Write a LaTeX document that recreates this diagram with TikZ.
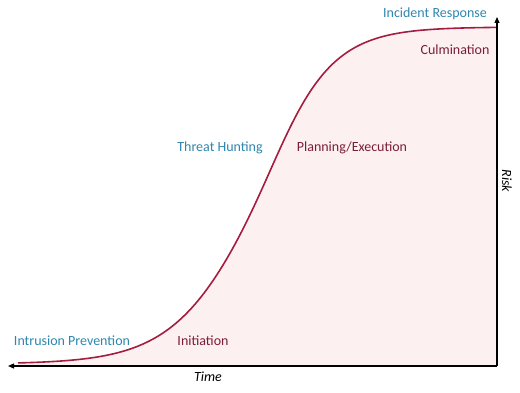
\documentclass[tikz,border=0pt]{standalone}
\usepackage{fontspec}
\setmainfont{Carlito}
\usetikzlibrary{arrows.meta}
\definecolor{teal}{HTML}{2F86AE}
\definecolor{wine}{HTML}{7A1E38}
\definecolor{curve}{HTML}{A51D3E}
\definecolor{pinkfill}{HTML}{FDF0F1}
\tikzset{
  axis/.style={line width=1.2pt, -{Triangle[length=6pt,width=5pt]}},
  bluelbl/.style={text=teal, font=\fontsize{14}{16}\selectfont, inner sep=0pt},
  redlbl/.style={text=wine, font=\fontsize{14}{16}\selectfont, inner sep=0pt},
  axlbl/.style={font=\fontsize{14}{16}\selectfont\itshape, inner sep=0pt},
  declare function={kk(\t)=38.5-3.5*tanh((\t-259)/40); sig(\t)=364-337/(1+exp(-(\t-259)/kk(\t)));}
}
\begin{document}
\begin{tikzpicture}[x=1pt,y=-1pt]
\useasboundingbox (0,0) rectangle (520,393);
\coordinate (origin) at (497,366);
\coordinate (xend) at (8,366);
\coordinate (yend) at (497,17);
% fill
\fill[pinkfill] plot[domain=18:497,samples=150] (\x,{sig(\x)}) -- (origin) -- (18,366) -- cycle;
% curve
\draw[curve, line width=1.6pt] plot[domain=18:497,samples=150] (\x,{sig(\x)});
% axes
\draw[axis] (origin) -- (xend);
\draw[axis] (origin) -- (yend);
% labels
\node[bluelbl] (ip) at (72,341) {Intrusion Prevention};
\node[redlbl] (init) at (203,341) {Initiation};
\node[bluelbl] (th) at (220,148) {Threat Hunting};
\node[redlbl] (pe) at (352,148) {Planning/Execution};
\node[bluelbl] (ir) at (435,14) {Incident Response};
\node[redlbl] (cu) at (455,50) {Culmination};
\node[axlbl] (time) at (208,377) {Time};
\node[axlbl, rotate=-90] (risk) at (507,181) {Risk};
\end{tikzpicture}
\end{document}
